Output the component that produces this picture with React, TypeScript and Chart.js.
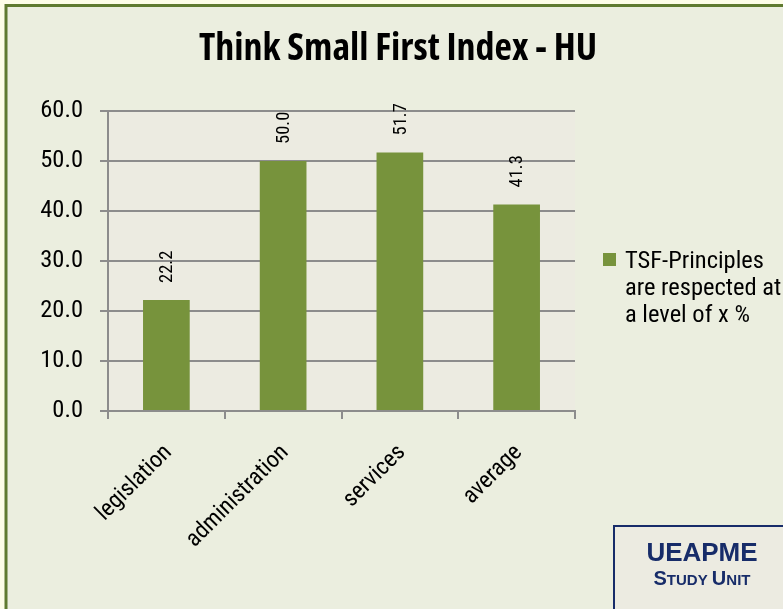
import React, { useEffect, useRef } from "react";
import { Chart, registerables } from "chart.js";

Chart.register(...registerables);

const categories = ["legislation", "administration", "services", "average"];
const values = [22.2, 50.0, 51.7, 41.3];
const yMin = 0;
const yMax = 60;
const yStep = 10;
const chartTitle = "Think Small First Index - HU";
const legendLines = ["TSF-Principles", "are respected at", "a level of x %"];
const boxTitle = "UEAPME";
const boxSub = [
  ["S", "TUDY "],
  ["U", "NIT"],
];

const NARROW = '"Roboto Condensed", "Liberation Sans Narrow", "Liberation Sans", sans-serif';
const TITLE_FAMILY = '"Open Sans", "Liberation Sans", sans-serif';
const SANS = '"Liberation Sans", Arial, sans-serif';
const BAR = "#77933c";
const GRID = "#8c8c8c";
const NAVY = "#172c69";

// font size that gives a text a target width
function fitSize(text: string, prefix: string, family: string, target: number) {
  const c = document.createElement("canvas").getContext("2d")!;
  c.font = `${prefix} 100px ${family}`;
  return Math.round(((100 * target) / c.measureText(text).width) * 2) / 2;
}

function makeDecor(sz: { title: number; legend: number; data: number }) {
  return {
    id: "decor",
    beforeDraw(chart: any) {
      const { ctx, width, height } = chart;
      ctx.save();
      ctx.fillStyle = "#fdfde8";
      ctx.fillRect(0, 0, width, height);
      ctx.fillStyle = "#ebeedf";
      ctx.fillRect(6, 5, width, height);
      ctx.strokeStyle = "#5f7a30";
      ctx.lineWidth = 3;
      ctx.beginPath();
      ctx.moveTo(6, height + 10);
      ctx.lineTo(6, 5.5);
      ctx.lineTo(width + 10, 5.5);
      ctx.stroke();
      const a = chart.chartArea;
      ctx.fillStyle = "#ecebe1";
      ctx.fillRect(a.left, a.top, a.right - a.left, a.bottom - a.top);
      ctx.restore();
    },
    afterDatasetsDraw(chart: any) {
      const { ctx } = chart;
      const meta = chart.getDatasetMeta(0);
      const data = chart.data.datasets[0].data;
      ctx.save();
      ctx.font = `${sz.data}px ${NARROW}`;
      ctx.fillStyle = "#000";
      ctx.textAlign = "left";
      ctx.textBaseline = "middle";
      meta.data.forEach((bar: any, i: number) => {
        ctx.save();
        ctx.translate(bar.x, bar.y - 17);
        ctx.rotate(-Math.PI / 2);
        ctx.fillText(Number(data[i]).toFixed(1), 0, 1);
        ctx.restore();
      });
      ctx.restore();
    },
    afterDraw(chart: any) {
      const { ctx, width, height } = chart;
      ctx.save();
      // title
      ctx.fillStyle = "#000";
      ctx.font = `bold condensed ${sz.title}px ${TITLE_FAMILY}`;
      ctx.textAlign = "center";
      ctx.textBaseline = "alphabetic";
      ctx.fillText(chartTitle, 398, 60);
      // legend
      ctx.fillStyle = BAR;
      ctx.fillRect(603, 253, 13, 13);
      ctx.fillStyle = "#000";
      ctx.font = `${sz.legend}px ${NARROW}`;
      ctx.textAlign = "left";
      legendLines.forEach((t, i) => ctx.fillText(t, 625, 268 + i * 27));
      // UEAPME box
      ctx.fillStyle = "#ecebe1";
      ctx.fillRect(614, 526, width, height);
      ctx.strokeStyle = NAVY;
      ctx.lineWidth = 2;
      ctx.beginPath();
      ctx.moveTo(614, height + 10);
      ctx.lineTo(614, 526);
      ctx.lineTo(width + 10, 526);
      ctx.stroke();
      ctx.fillStyle = NAVY;
      ctx.textAlign = "center";
      ctx.font = `bold 26px ${SANS}`;
      ctx.fillText(boxTitle, 702, 561);
      const big = `bold 20px ${SANS}`;
      const small = `bold 15px ${SANS}`;
      ctx.textAlign = "left";
      let total = 0;
      boxSub.forEach(([b, s]) => {
        ctx.font = big;
        total += ctx.measureText(b).width;
        ctx.font = small;
        total += ctx.measureText(s).width;
      });
      let x = 702 - total / 2;
      boxSub.forEach(([b, s]) => {
        ctx.font = big;
        ctx.fillText(b, x, 585);
        x += ctx.measureText(b).width;
        ctx.font = small;
        ctx.fillText(s, x, 585);
        x += ctx.measureText(s).width;
      });
      ctx.restore();
    },
  };
}

export default function App() {
  const ref = useRef<HTMLCanvasElement | null>(null);
  useEffect(() => {
    document.body.style.margin = "0";
    const canvas = ref.current;
    if (!canvas) return;
    const sz = {
      title: fitSize(chartTitle, "bold condensed", TITLE_FAMILY, 400),
      legend: fitSize(legendLines[0], "", NARROW, 139),
      data: fitSize("22.2", "", NARROW, 32),
      yTick: fitSize("60.0", "", NARROW, 43),
      xTick: fitSize("administration", "", NARROW, 134),
    };
    const chart = new Chart(canvas, {
      type: "bar",
      data: {
        labels: categories,
        datasets: [
          {
            label: legendLines.join(" "),
            data: values,
            backgroundColor: BAR,
            borderWidth: 0,
            barPercentage: 0.4,
            categoryPercentage: 1,
          },
        ],
      },
      options: {
        responsive: false,
        animation: false,
        devicePixelRatio: 1,
        layout: { padding: { top: 111, right: 208, left: 0, bottom: 0 } },
        plugins: {
          legend: { display: false },
          title: { display: false },
          tooltip: { enabled: false },
        },
        scales: {
          x: {
            grid: {
              display: true,
              offset: true,
              drawOnChartArea: false,
              drawTicks: true,
              tickLength: 8,
              color: GRID,
              lineWidth: 2,
            },
            border: { display: true, color: GRID, width: 2 },
            ticks: {
              autoSkip: false,
              minRotation: 45,
              maxRotation: 45,
              padding: 20,
              labelOffset: 2,
              color: "#000",
              font: { family: NARROW, size: sz.xTick },
            },
            afterFit(scale: any) {
              scale.height = 198;
            },
          },
          y: {
            min: yMin,
            max: yMax,
            grid: {
              color: GRID,
              lineWidth: 2,
              tickLength: 8,
              drawTicks: true,
            },
            border: { display: true, color: GRID, width: 2 },
            ticks: {
              stepSize: yStep,
              padding: 17,
              color: "#000",
              font: { family: NARROW, size: sz.yTick },
              callback: (v: any) => Number(v).toFixed(1),
            },
            afterFit(scale: any) {
              scale.width = 108;
            },
          },
        },
      },
      plugins: [makeDecor(sz)],
    });
    return () => chart.destroy();
  }, []);
  return <canvas ref={ref} width={783} height={609} style={{ display: "block" }} />;
}
